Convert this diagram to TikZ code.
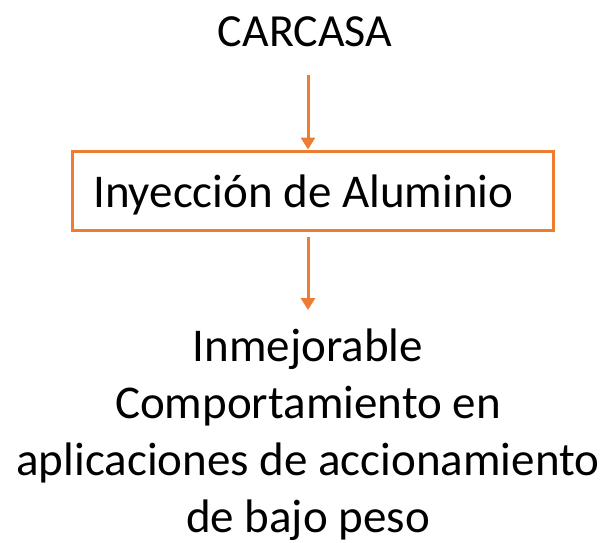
\documentclass[tikz,border=0pt]{standalone}
\usepackage{fontspec}
\setmainfont{Carlito}
\usetikzlibrary{arrows.meta}
\definecolor{orng}{HTML}{ED7D31}
\begin{document}
\begin{tikzpicture}[x=1pt,y=-1pt,
  lbl/.style={inner sep=0pt, font=\fontsize{46}{52}\selectfont},
  conn/.style={draw=orng, line width=3pt, -{Triangle[length=12pt,width=14pt]}}]
\useasboundingbox (0,0) rectangle (611,543);
\node[lbl, anchor=base] (top) at (305,47) {CARCASA};
\node[draw=orng, line width=3pt, minimum width=481pt, minimum height=79pt, inner sep=0pt] (box) at (312.5,190.5) {};
\node[lbl, anchor=base west, font=\fontsize{47}{52}\selectfont] (boxtxt) at (93,207) {Inyección de Aluminio};
\node[lbl, anchor=base, align=center, font=\fontsize{47}{57}\selectfont] (res) at (308,532)
  {Inmejorable\\Comportamiento en\\aplicaciones de accionamiento\\de bajo peso};
\coordinate (a1s) at (308,75);
\coordinate (a2s) at (308,237);
\coordinate (a2e) at (308,310);
\draw[conn] (a1s) -- (box.north -| a1s);
\draw[conn] (a2s) -- (a2e);
\end{tikzpicture}
\end{document}
